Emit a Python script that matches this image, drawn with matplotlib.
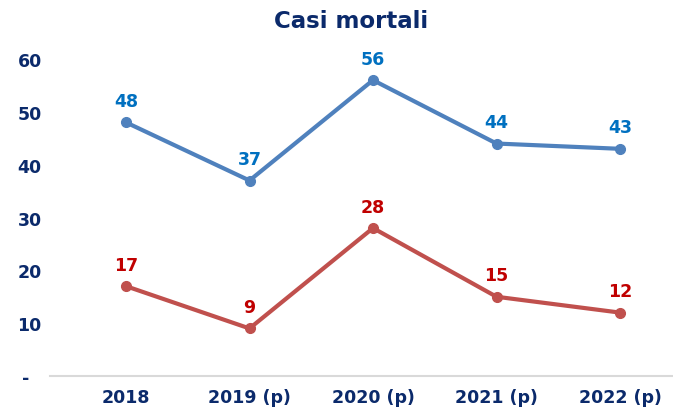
import matplotlib.pyplot as plt

# data
years = ["2018", "2019 (p)", "2020 (p)", "2021 (p)", "2022 (p)"]
serie_blu = [48, 37, 56, 44, 43]
serie_rossa = [17, 9, 28, 15, 12]
y_ticks = [0, 10, 20, 30, 40, 50, 60]
y_labels = ["-  ", "10", "20", "30", "40", "50", "60"]

navy = "#0B2A6B"

fig = plt.figure(figsize=(6.73, 4.1), dpi=100)
ax = fig.add_axes([50 / 673, 1 - 377 / 410, 1 - 50 / 673, (377 - 60) / 410])

x = list(range(len(years)))
ax.plot(x, serie_blu, color="#4F81BD", linewidth=3, marker="o", markersize=7,
        solid_capstyle="round", clip_on=False, zorder=3)
ax.plot(x, serie_rossa, color="#C0504D", linewidth=3, marker="o", markersize=7,
        solid_capstyle="round", clip_on=False, zorder=3)

for xi, v in zip(x, serie_blu):
    ax.annotate(str(v), (xi, v), xytext=(0, 9), textcoords="offset points",
                ha="center", va="bottom", fontsize=12.5, fontweight="bold",
                color="#0070C0")
for xi, v in zip(x, serie_rossa):
    ax.annotate(str(v), (xi, v), xytext=(0, 9), textcoords="offset points",
                ha="center", va="bottom", fontsize=12.5, fontweight="bold",
                color="#C00000")

ax.set_xlim((50 - 126) / 123.5, (673 - 126) / 123.5)
ax.set_ylim(0, 60)
ax.set_xticks(x)
ax.set_xticklabels(years)
ax.set_yticks(y_ticks)
ax.set_yticklabels(y_labels)

ax.tick_params(axis="both", length=0, labelsize=12.5, labelcolor=navy)
ax.tick_params(axis="x", pad=9)
ax.tick_params(axis="y", pad=6)
for lab in ax.get_xticklabels() + ax.get_yticklabels():
    lab.set_fontweight("bold")

for s in ["top", "right", "left"]:
    ax.spines[s].set_visible(False)
ax.spines["bottom"].set_color("#D9D9D9")
ax.spines["bottom"].set_linewidth(1.5)
ax.set_facecolor("none")

fig.text(351 / 673, 1 - 22 / 410, "Casi mortali", ha="center", va="center",
         fontsize=16.5, fontweight="bold", color=navy)

fig.savefig("out.png", dpi=100)
